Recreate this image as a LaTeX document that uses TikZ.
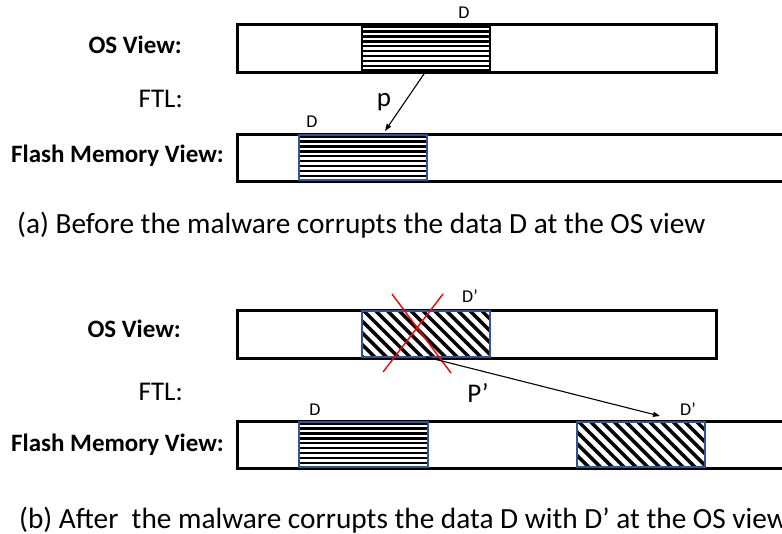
\documentclass[tikz,border=0pt]{standalone}
\usepackage{fontspec}
\setmainfont{Carlito}
\usetikzlibrary{arrows.meta}
\definecolor{edgeblue}{RGB}{47,85,151}
\tikzset{
  viewbox/.style={draw=black, line width=3pt, inner sep=0pt, outer sep=0pt,
    anchor=north west, minimum height=#1},
  % dense horizontal stripes
  hzfill/.style={path picture={
    \foreach \k in {0,...,10}
      \draw[black, line width=2.5pt]
        ([yshift=-\k*4.9pt-1.6pt]path picture bounding box.north west) --
        ([yshift=-\k*4.9pt-1.6pt]path picture bounding box.north east);
  }},
  % diagonal stripes running down to the right
  dgfill/.style={path picture={
    \foreach \k in {-6,...,12}
      \draw[black, line width=3.5pt]
        ([xshift=\k*11.8pt+2pt]path picture bounding box.north west) -- ++(70pt,-70pt);
  }},
  block/.style={inner sep=0pt, outer sep=0pt, anchor=north west,
    minimum width=#1, line width=1.1pt},
  rowlabel/.style={inner sep=0pt, anchor=base east, font=\fontsize{25}{30}\selectfont\bfseries},
  ftllabel/.style={inner sep=0pt, anchor=base east, font=\fontsize{27}{32}\selectfont},
  ptrlabel/.style={inner sep=0pt, anchor=base, font=\fontsize{27}{32}\selectfont},
  datalabel/.style={inner sep=0pt, anchor=base, font=\fontsize{18}{22}\selectfont},
  caption/.style={inner sep=0pt, anchor=base west, font=\fontsize{29.3}{35}\selectfont},
  mapping/.style={draw=black, line width=1.1pt, -{Triangle[length=7pt,width=5pt]}},
  strike/.style={draw=red, line width=1.4pt}
}
\begin{document}
\begin{tikzpicture}[x=1pt,y=-1pt]
\clip (0,0) rectangle (782,533);
\fill[white] (0,0) rectangle (782,533);

% ---- (a) before the corruption ----
\node[rowlabel] (osA) at (182,53) {OS View:};
\node[ftllabel] (ftlA) at (183,107) {FTL:};
\node[rowlabel] (flA) at (224,162) {Flash Memory View:};

\node[viewbox=48pt, minimum width=479pt] (osboxA) at (237,24) {};
\node[block=128pt, minimum height=46pt, hzfill, draw=black] (osdataA) at (362,25) {};
\node[viewbox=47pt, minimum width=600pt] (flboxA) at (237,134) {};
\node[block=128pt, minimum height=45pt, hzfill, draw=edgeblue] (fldataA) at (299,135) {};

\node[datalabel] (dA) at (464,18) {D};
\node[datalabel] (dfA) at (312,127) {D};

\coordinate (tipA) at (385,131);
\draw[mapping] (osdataA.south) -- (tipA);
\node[ptrlabel] (pA) at (384,106) {p};

\node[caption] (capA) at (17,233) {(a) Before the malware corrupts the data D at the OS view};

% ---- (b) after the corruption ----
\node[rowlabel] (osB) at (181,337) {OS View:};
\node[ftllabel] (ftlB) at (183,400) {FTL:};
\node[rowlabel] (flB) at (224,451) {Flash Memory View:};

\node[viewbox=48pt, minimum width=479pt] (osboxB) at (237,310) {};
\node[block=128pt, minimum height=46pt, dgfill, draw=edgeblue] (osdataB) at (362,311) {};
\node[viewbox=47pt, minimum width=600pt] (flboxB) at (237,421) {};
\node[block=129pt, minimum height=45pt, hzfill, draw=edgeblue] (fldataB) at (299,422) {};
\node[block=128pt, minimum height=45pt, dgfill, draw=edgeblue] (flnewB) at (577,422) {};

\node[datalabel] (dB) at (470,302) {D’};
\node[datalabel] (dfB) at (315,415) {D};
\node[datalabel] (dnB) at (688,415) {D’};

% the stale mapping is crossed out
\draw[strike] (392,294) -- (451,373);
\draw[strike] (443,294) -- (383,372);

\coordinate (tipB) at (660,416);
\draw[mapping] (osdataB.south) -- (tipB);
\node[ptrlabel] (pB) at (478,402) {P’};

\node[caption] (capB) at (19,528) {(b) After~ the malware corrupts the data D with D’ at the OS view};
\end{tikzpicture}
\end{document}
